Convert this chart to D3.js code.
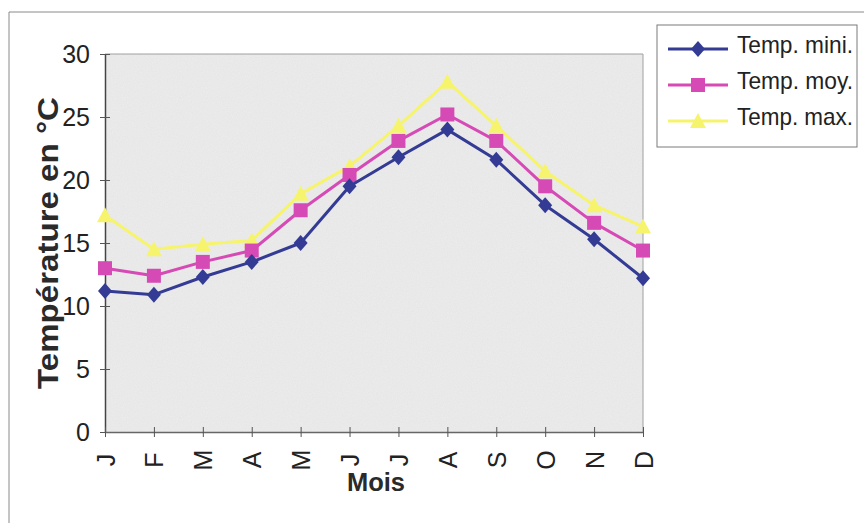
<!DOCTYPE html>
<html>
<head>
<meta charset="utf-8">
<script src="https://cdn.jsdelivr.net/npm/d3@7"></script>
<style>
  body { margin: 0; background: #fff; }
  svg { display: block; font-family: "Liberation Sans", Arial, sans-serif; }
</style>
</head>
<body>
<div id="chart"></div>
<script>
// Données : températures mensuelles
const months = ["J", "F", "M", "A", "M", "J", "J", "A", "S", "O", "N", "D"];
const tempMin = [11.2, 10.9, 12.3, 13.5, 15.0, 19.5, 21.8, 24.0, 21.6, 18.0, 15.3, 12.2];
const tempMoy = [13.0, 12.4, 13.5, 14.4, 17.6, 20.4, 23.1, 25.2, 23.1, 19.5, 16.6, 14.4];
const tempMax = [17.2, 14.5, 14.9, 15.2, 18.9, 21.1, 24.3, 27.8, 24.3, 20.7, 18.0, 16.3];
const yTicks = [0, 5, 10, 15, 20, 25, 30];
const seriesNames = ["Temp. mini.", "Temp. moy.", "Temp. max."];

const width = 864, height = 523;
const plot = { left: 105, top: 54, right: 643, bottom: 432 };

const svg = d3.select("#chart").append("svg")
    .attr("width", width)
    .attr("height", height);

// Grain léger du fond (aspect scanné)
const defs = svg.append("defs");
const grain = defs.append("filter").attr("id", "grain")
    .attr("x", 0).attr("y", 0).attr("width", 1).attr("height", 1);
grain.append("feTurbulence")
    .attr("type", "fractalNoise").attr("baseFrequency", 0.8)
    .attr("numOctaves", 1).attr("seed", 3).attr("result", "noise");
grain.append("feColorMatrix")
    .attr("type", "matrix")
    .attr("values", "0 0 0 0 0.55  0 0 0 0 0.55  0 0 0 0 0.55  0 0 0 0.35 -0.05");

// Cadre extérieur (haut et gauche seulement, comme le scan)
svg.append("line").attr("x1", 9).attr("y1", 12).attr("x2", width).attr("y2", 12)
    .attr("stroke", "#8a8a8a").attr("stroke-width", 1);
svg.append("line").attr("x1", 9).attr("y1", 12).attr("x2", 9).attr("y2", height)
    .attr("stroke", "#8a8a8a").attr("stroke-width", 1);

const x = d3.scalePoint()
    .domain(d3.range(months.length))
    .range([plot.left, plot.right]);

const y = d3.scaleLinear()
    .domain([0, 30])
    .range([plot.bottom, plot.top]);

// Zone de tracé
svg.append("rect")
    .attr("x", plot.left).attr("y", plot.top)
    .attr("width", plot.right - plot.left)
    .attr("height", plot.bottom - plot.top)
    .attr("fill", "#ececec");
svg.append("rect")
    .attr("x", plot.left).attr("y", plot.top)
    .attr("width", plot.right - plot.left)
    .attr("height", plot.bottom - plot.top)
    .attr("fill", "#fff")
    .attr("filter", "url(#grain)")
    .attr("opacity", 0.6);
svg.append("path")
    .attr("d", `M${plot.left},${plot.top}H${plot.right}V${plot.bottom}`)
    .attr("fill", "none").attr("stroke", "#a0a0a0").attr("stroke-width", 1);

// Axe Y
const yAxis = svg.append("g")
    .attr("transform", `translate(${plot.left},0)`)
    .call(d3.axisLeft(y).tickValues(yTicks).tickSize(5).tickSizeOuter(0).tickPadding(10));
yAxis.select(".domain").attr("stroke", "#444").attr("stroke-width", 1.5);
yAxis.selectAll(".tick line").attr("x1", 5).attr("stroke", "#555");
yAxis.selectAll(".tick text")
    .attr("font-size", 25).attr("fill", "#222")
    .attr("font-family", "Liberation Sans, Arial, sans-serif");

// Axe X
const xAxis = svg.append("g")
    .attr("transform", `translate(0,${plot.bottom})`)
    .call(d3.axisBottom(x).tickSize(5).tickSizeOuter(0).tickFormat(i => months[i]));
xAxis.select(".domain").attr("stroke", "#666").attr("stroke-width", 1.5);
xAxis.selectAll(".tick line").attr("y1", -5).attr("stroke", "#555");
xAxis.selectAll(".tick text")
    .attr("y", 0).attr("dy", "0.36em")
    .attr("transform", "translate(0,28) rotate(-90)")
    .attr("text-anchor", "middle")
    .attr("font-size", 25).attr("fill", "#222")
    .attr("font-family", "Liberation Sans, Arial, sans-serif");

// Titres des axes
svg.append("text")
    .attr("transform", "translate(58,243) rotate(-90)")
    .attr("text-anchor", "middle")
    .attr("font-size", 29).attr("font-weight", "bold").attr("fill", "#2a2a2a")
    .attr("textLength", 292).attr("lengthAdjust", "spacingAndGlyphs")
    .text("Température en °C");

svg.append("text")
    .attr("x", 376).attr("y", 491)
    .attr("text-anchor", "middle")
    .attr("font-size", 25).attr("font-weight", "bold").attr("fill", "#2a2a2a")
    .attr("textLength", 58).attr("lengthAdjust", "spacingAndGlyphs")
    .text("Mois");

// Formes des marqueurs
const markers = {
    diamond: "M0,-8L7,0L0,8L-7,0Z",
    square: "M-7,-7H7V7H-7Z",
    triangle: "M0,-8L8,7H-8Z"
};

const series = [
    { name: seriesNames[2], values: tempMax, color: "#f6f46c", marker: markers.triangle },
    { name: seriesNames[1], values: tempMoy, color: "#d64ab6", marker: markers.square },
    { name: seriesNames[0], values: tempMin, color: "#343b94", marker: markers.diamond }
];

const line = d3.line()
    .x((d, i) => x(i))
    .y(d => y(d));

const seriesGroup = svg.append("g").attr("class", "series");
series.forEach(s => {
    const g = seriesGroup.append("g");
    g.append("path")
        .attr("d", line(s.values))
        .attr("fill", "none")
        .attr("stroke", s.color)
        .attr("stroke-width", 3)
        .attr("stroke-linejoin", "round");
    g.selectAll("path.marker")
        .data(s.values)
        .enter().append("path")
        .attr("class", "marker")
        .attr("d", s.marker)
        .attr("transform", (d, i) => `translate(${x(i)},${y(d)})`)
        .attr("fill", s.color);
});

// Légende
const legend = svg.append("g").attr("transform", "translate(657,25)");
legend.append("rect")
    .attr("width", 200).attr("height", 122)
    .attr("fill", "#fff").attr("stroke", "#7a7a7a").attr("stroke-width", 1);

const legendItems = series.slice().reverse();
legendItems.forEach((s, i) => {
    const cy = 24 + i * 36;
    legend.append("line")
        .attr("x1", 11).attr("x2", 71).attr("y1", cy).attr("y2", cy)
        .attr("stroke", s.color).attr("stroke-width", 3);
    legend.append("path")
        .attr("d", s.marker)
        .attr("transform", `translate(41,${cy})`)
        .attr("fill", s.color);
    legend.append("text")
        .attr("x", 80).attr("y", cy + 4)
        .attr("font-size", 24).attr("fill", "#222")
        .attr("textLength", 116).attr("lengthAdjust", "spacingAndGlyphs")
        .text(s.name);
});
</script>
</body>
</html>
